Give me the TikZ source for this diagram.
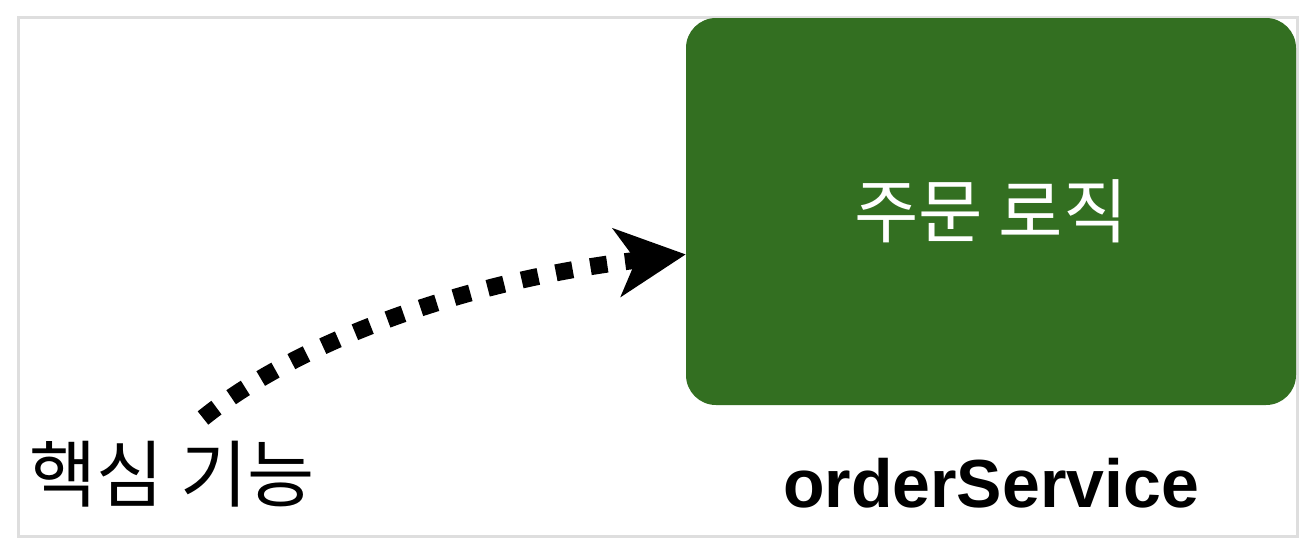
\documentclass[tikz,border=0pt]{standalone}
\usepackage{fontspec}
\setmainfont{Liberation Sans}
\newfontfamily\kor{Noto Sans CJK KR}
\usetikzlibrary{arrows.meta}
\definecolor{logicgreen}{HTML}{336F21}

\begin{document}
\begin{tikzpicture}[x=0.5pt,y=-0.5pt]
\useasboundingbox (0,0) rectangle (1314,548);
\draw[line width=1.5pt, draw=black!13] (18,17) rectangle (1297,536);

\node[fill=logicgreen, rounded corners=15pt, minimum width=305pt, minimum height=193.5pt, inner sep=0pt, text=white, font=\kor\fontsize{35}{42}\selectfont] (logic) at (991,211.5) {주문 로직};
\node[font=\bfseries\fontsize{34}{40}\selectfont] (service) at (991,483) {orderService};
\node[font=\kor\fontsize{36.5}{44}\selectfont] (core) at (172,474) {핵심 기능};

\coordinate (start) at (203,418);
\path[draw, line width=8.5pt, dash pattern=on 8.5pt off 9pt, -{Stealth[length=35pt,width=35pt,inset=10pt,line width=0pt]}] (start) .. controls (300,340) and (470,280) .. (logic.188);

\end{tikzpicture}
\end{document}
